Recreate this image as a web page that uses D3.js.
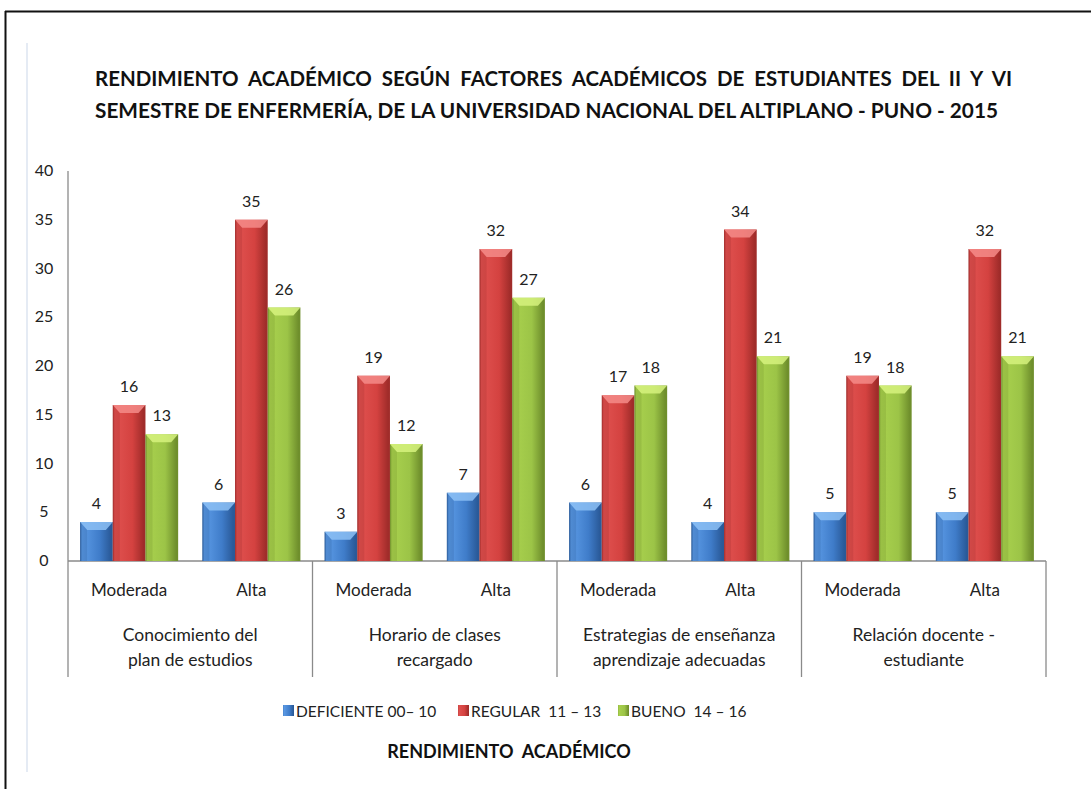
<!DOCTYPE html>
<html>
<head>
<meta charset="utf-8">
<script src="https://cdn.jsdelivr.net/npm/d3@7"></script>
<style>
  html, body { margin: 0; padding: 0; background: #fff; }
  svg { display: block; font-family: Lato, "Noto Sans", sans-serif; }
  text { white-space: pre; }
</style>
</head>
<body>
<svg id="chart" width="1091" height="789"></svg>
<script>
const groups = ["Conocimiento del plan de estudios", "Horario de clases recargado",
  "Estrategias de enseñanza aprendizaje adecuadas", "Relación docente - estudiante"];
const groupLines = [["Conocimiento del", "plan de estudios"], ["Horario de clases", "recargado"],
  ["Estrategias de enseñanza", "aprendizaje adecuadas"], ["Relación docente -", "estudiante"]];
const levels = ["Moderada", "Alta"];
const seriesNames = ["DEFICIENTE 00– 10", "REGULAR  11 – 13", "BUENO  14 – 16"];
// values per group, per level: [deficiente, regular, bueno]
const deficiente = [4, 6, 3, 7, 6, 4, 5, 5];
const regular = [16, 35, 19, 32, 17, 34, 19, 32];
const bueno = [13, 26, 12, 27, 18, 21, 18, 21];
const yTicks = [0, 5, 10, 15, 20, 25, 30, 35, 40];

const svg = d3.select("#chart");
const defs = svg.append("defs");

// frame
svg.append("line").attr("x1", 5).attr("x2", 1091).attr("y1", 11.5).attr("y2", 11.5)
  .attr("stroke", "#111").attr("stroke-width", 2);
svg.append("line").attr("x1", 5.5).attr("x2", 5.5).attr("y1", 11).attr("y2", 789)
  .attr("stroke", "#111").attr("stroke-width", 2);
svg.append("line").attr("x1", 27).attr("x2", 27).attr("y1", 43).attr("y2", 772)
  .attr("stroke", "#dde4f0").attr("stroke-width", 1.5);

// title
const title = svg.append("g").attr("font-weight", "bold").attr("font-size", 20).attr("fill", "#111");
title.append("text").attr("x", 95).attr("y", 86)
  .attr("textLength", 917).attr("lengthAdjust", "spacingAndGlyphs")
  .text("RENDIMIENTO  ACADÉMICO  SEGÚN  FACTORES  ACADÉMICOS  DE  ESTUDIANTES  DEL  II  Y  VI");
title.append("text").attr("x", 95).attr("y", 118)
  .attr("textLength", 903).attr("lengthAdjust", "spacingAndGlyphs")
  .text("SEMESTRE DE ENFERMERÍA, DE LA UNIVERSIDAD NACIONAL DEL ALTIPLANO - PUNO - 2015");

const plotLeft = 68, plotRight = 1046, plotTop = 171, plotBottom = 561;
const y = d3.scaleLinear().domain([0, 40]).range([plotBottom, plotTop]);
const x0 = d3.scaleBand().domain(groups).range([plotLeft, plotRight]);
const x1 = d3.scaleBand().domain(levels).range([0, x0.bandwidth()]);
const x2 = d3.scaleBand().domain(seriesNames).range([0, x1.bandwidth()]).paddingOuter(0.37).paddingInner(0);

const colors = [
  { base: "#3f7cc9", light: "#5c9be6", dark: "#2a5a99", cap: "#8cc0f5" },
  { base: "#d44240", light: "#e05250", dark: "#a02c2a", cap: "#f58b88" },
  { base: "#9cc447", light: "#a9d14e", dark: "#6f8f2c", cap: "#d6f27e" }
];
colors.forEach((c, i) => {
  const g = defs.append("linearGradient").attr("id", "grad" + i);
  g.append("stop").attr("offset", "0%").attr("stop-color", c.dark);
  g.append("stop").attr("offset", "6%").attr("stop-color", c.light);
  g.append("stop").attr("offset", "60%").attr("stop-color", c.base);
  g.append("stop").attr("offset", "94%").attr("stop-color", c.dark);
  g.append("stop").attr("offset", "100%").attr("stop-color", c.dark);
});

// axes
svg.append("line").attr("x1", plotLeft).attr("x2", plotLeft).attr("y1", plotTop).attr("y2", 677)
  .attr("stroke", "#8a8a8a").attr("stroke-width", 1.3);
const yAxis = svg.append("g").attr("font-size", 16).attr("fill", "#222");
yAxis.selectAll("text").data(yTicks).join("text")
  .attr("x", 44).attr("y", d => y(d) + 5).attr("text-anchor", "middle").text(d => d);

svg.append("line").attr("x1", plotLeft).attr("x2", plotRight).attr("y1", plotBottom).attr("y2", plotBottom)
  .attr("stroke", "#8a8a8a").attr("stroke-width", 1.3);
svg.selectAll("line.sep").data(groups).join("line").attr("class", "sep")
  .attr("x1", d => x0(d) + x0.bandwidth()).attr("x2", d => x0(d) + x0.bandwidth())
  .attr("y1", plotBottom).attr("y2", 677).attr("stroke", "#8a8a8a").attr("stroke-width", 1.3);

// bars
const rows = [];
groups.forEach((g, gi) => levels.forEach((l, li) => {
  const k = gi * 2 + li;
  [deficiente[k], regular[k], bueno[k]].forEach((v, si) => rows.push({ g, l, s: seriesNames[si], si, v }));
}));

const bars = svg.append("g").selectAll("g").data(rows).join("g")
  .attr("transform", d => `translate(${x0(d.g) + x1(d.l) + x2(d.s)},0)`);
const bw = x2.bandwidth();
bars.append("rect").attr("x", 0).attr("width", bw)
  .attr("y", d => y(d.v)).attr("height", d => plotBottom - y(d.v))
  .attr("fill", d => `url(#grad${d.si})`);
bars.append("path")
  .attr("d", d => {
    const t = y(d.v);
    return `M0,${t}L${bw},${t}L${bw - 7},${t + 8}L7,${t + 8}Z`;
  })
  .attr("fill", d => colors[d.si].cap).attr("opacity", 0.85);
bars.append("path")
  .attr("d", d => {
    const t = y(d.v);
    return `M0,${t}L7,${t + 8}L7,${plotBottom}L0,${plotBottom}Z`;
  })
  .attr("fill", d => colors[d.si].dark).attr("opacity", 0.25);
bars.append("text").attr("x", bw / 2).attr("y", d => y(d.v) - 13)
  .attr("text-anchor", "middle").attr("font-size", 16).attr("fill", "#222")
  .text(d => d.v);

// category labels
const cat = svg.append("g").attr("font-size", 17).attr("fill", "#222").attr("text-anchor", "middle");
groups.forEach(g => levels.forEach(l => {
  cat.append("text").attr("x", x0(g) + x1(l) + x1.bandwidth() / 2).attr("y", 596).text(l);
}));
groupLines.forEach((lines, i) => {
  lines.forEach((t, j) => {
    cat.append("text").attr("x", x0(groups[i]) + x0.bandwidth() / 2).attr("y", 641 + j * 25)
      .attr("font-size", 17.5).text(t);
  });
});

// legend
const legendX = [283, 458, 618];
const legend = svg.append("g").selectAll("g").data(seriesNames).join("g")
  .attr("transform", (d, i) => `translate(${legendX[i]},711)`);
legend.append("rect").attr("x", 0).attr("y", -6).attr("width", 11).attr("height", 11)
  .attr("fill", (d, i) => `url(#grad${i})`);
legend.append("text").attr("x", 13).attr("y", 6).attr("font-size", 15.5).attr("fill", "#222")
  .text(d => d);

svg.append("text").attr("x", 509).attr("y", 758).attr("text-anchor", "middle")
  .attr("font-size", 18).attr("font-weight", "bold").attr("fill", "#111")
  .text("RENDIMIENTO  ACADÉMICO");
</script>
</body>
</html>
